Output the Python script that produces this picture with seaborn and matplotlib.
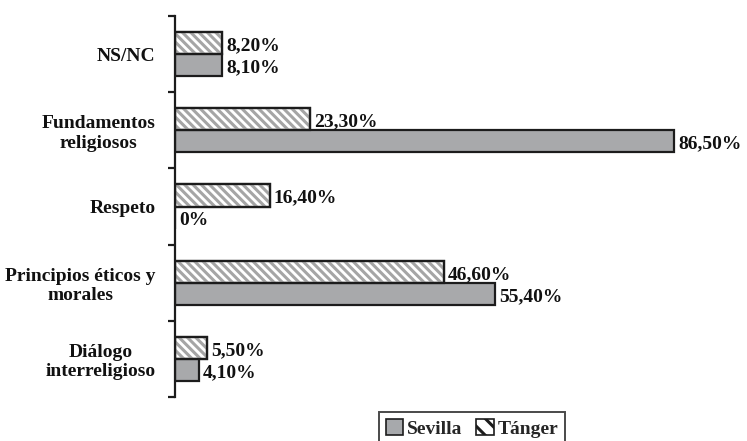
import numpy as np
import pandas as pd
import seaborn as sns
import matplotlib.pyplot as plt
from matplotlib.patches import Rectangle, Patch

categories = [
    'NS/NC',
    'Fundamentos\nreligiosos',
    'Respeto',
    'Principios éticos y\nmorales',
    'Diálogo\ninterreligioso',
]
tanger = [8.2, 23.3, 16.4, 46.6, 5.5]
sevilla = [8.1, 86.5, 0.0, 55.4, 4.1]
series = ['Tánger', 'Sevilla']

df = pd.DataFrame({
    'cat': categories * 2,
    'val': tanger + sevilla,
    'city': ['Tánger'] * 5 + ['Sevilla'] * 5,
})

sns.set_style('white')
plt.rcParams['font.family'] = ['Liberation Serif', 'DejaVu Serif']
plt.rcParams['hatch.linewidth'] = 2.2

grey = '#a7a9ac'
edge = '#1c1c1c'
fs = 14

fig = plt.figure(figsize=(7.47, 4.41), dpi=100)
ax = fig.add_axes([175 / 747, 1 - 397 / 441, 560 / 747, 381 / 441])

sns.barplot(
    data=df, x='val', y='cat', hue='city', order=categories,
    hue_order=series, palette={'Tánger': 'white', 'Sevilla': grey},
    orient='h', width=0.58, gap=0, edgecolor=edge, linewidth=1.6,
    legend=False, ax=ax,
)

# hatch overlay for Tánger bars, grey stripes under black edge
for p in ax.containers[0]:
    ax.add_patch(Rectangle(p.get_xy(), p.get_width(), p.get_height(),
                           fill=False, hatch='\\\\\\\\', edgecolor='#a5a5a5',
                           lw=0, zorder=p.get_zorder() + 0.1))
    ax.add_patch(Rectangle(p.get_xy(), p.get_width(), p.get_height(),
                           fill=False, edgecolor=edge, lw=1.6,
                           zorder=p.get_zorder() + 0.2))

for cont, vals in zip(ax.containers[:2], [tanger, sevilla]):
    labels = [f'{v:.2f}%'.replace('.', ',') if v > 0 else '0%' for v in vals]
    anns = ax.bar_label(cont, labels=labels, padding=3, fontsize=fs,
                        color='#111111', fontweight='bold')
    for a in anns:
        a.xyann = (3, -2)

ax.set_xlim(0, 97)
ax.set_ylim(4.5, -0.5)
ax.set_xlabel('')
ax.set_ylabel('')
ax.set_xticks([])

ax.set_yticks(range(len(categories)))
ax.set_yticklabels(categories, fontsize=fs, multialignment='center',
                   color='#111111', fontweight='bold')
ax.set_yticks(np.arange(-0.5, 5, 1), minor=True)
ax.tick_params(axis='y', which='major', length=0, pad=14)
ax.tick_params(axis='y', which='minor', length=5, width=1.6, color=edge,
               direction='out', left=True)

for s in ['top', 'right', 'bottom']:
    ax.spines[s].set_visible(False)
ax.spines['left'].set_color(edge)
ax.spines['left'].set_linewidth(1.6)

handles = [
    Patch(facecolor=grey, edgecolor=edge, lw=1.2, label='Sevilla'),
    Patch(facecolor='white', edgecolor=edge, lw=1.2, hatch='\\\\', label='Tánger'),
]
leg = fig.legend(handles=handles, loc='upper left',
                 bbox_to_anchor=(379 / 747, 1 - 412 / 441), ncol=2,
                 frameon=True, fancybox=False, fontsize=fs,
                 handlelength=0.9, handleheight=0.9, handletextpad=0.2,
                 columnspacing=0.7, borderpad=0.35, borderaxespad=0)
leg.get_frame().set_edgecolor(edge)
leg.get_frame().set_linewidth(1.4)
for t in leg.get_texts():
    t.set_fontweight('bold')

fig.savefig('out.png', dpi=100)
